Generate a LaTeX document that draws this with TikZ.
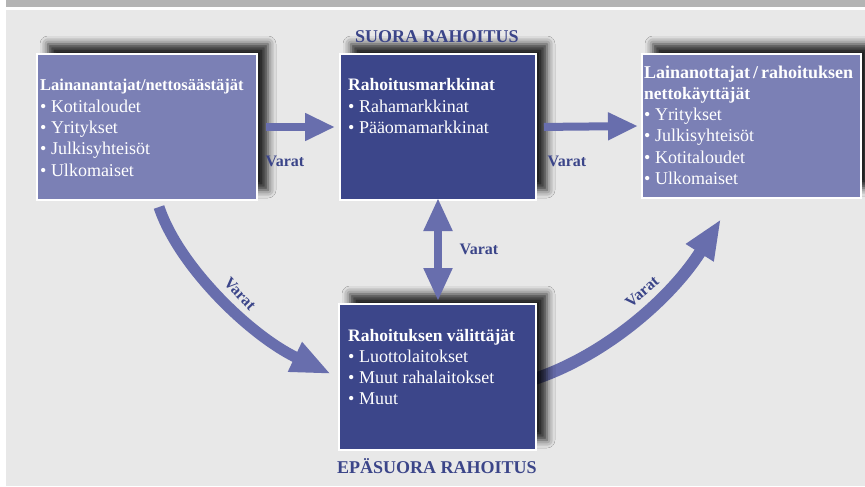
\documentclass[tikz,border=0pt]{standalone}
\usepackage{fontspec}
\setmainfont{Liberation Serif}
\newfontfamily\serifx{Liberation Serif}
\usetikzlibrary{arrows.meta,shadows.blur}
\definecolor{bgc}{HTML}{E8E8E8}
\definecolor{bandc}{HTML}{B4B4B4}
\definecolor{lightbox}{HTML}{7B80B5}
\definecolor{darkbox}{HTML}{3C468A}
\definecolor{flowc}{HTML}{686EAD}
\definecolor{tblue}{HTML}{3B4589}
\tikzset{
  box/.style={draw=white, line width=2pt, anchor=north west, inner sep=0pt,
    blur shadow={shadow xshift=11pt, shadow yshift=10pt, shadow blur radius=8pt, shadow opacity=85}},
  txt/.style={anchor=base west, inner sep=0pt, text=white},
  lbl/.style={inner sep=0pt, text=tblue, font=\serifx\fontsize{16}{18}\selectfont\bfseries},
  title/.style={anchor=base, inner sep=0pt, text=tblue, font=\serifx\fontsize{18}{20}\selectfont\bfseries},
  flow/.style={draw=flowc, line cap=butt},
}
\newcommand{\boxtext}[2]{\parbox[t]{#1}{\raggedright\serifx\fontsize{18}{21.3}\selectfont #2}}
\newcommand{\hdg}[2][17.5]{{\fontsize{#1}{21.3}\selectfont\bfseries #2}}
\begin{document}
\begin{tikzpicture}[x=1pt,y=-1pt]
\useasboundingbox (0,0) rectangle (865,487);
\fill[white] (0,0) rectangle (865,487);
\fill[bandc] (6,0) rectangle (865,7);
\fill[bgc] (6,10) rectangle (865,486);

% curved arrows (behind boxes)
\coordinate (lstart) at (159,207);
\coordinate (ltip) at (331,374);
\coordinate (rstart) at (525,382);
\coordinate (rtip) at (721,219);
\draw[flow, line width=11pt, -{Triangle[length=40pt,width=30pt]}]
  (lstart) .. controls (179,267) and (251,336) .. (ltip);
\draw[flow, line width=12pt, -{Triangle[length=40pt,width=30pt]}]
  (rstart) .. controls (600,360) and (670,300) .. (rtip);

% boxes
\node[box, fill=lightbox, minimum width=220pt, minimum height=146pt] (lend) at (36,53) {};
\node[box, fill=darkbox, minimum width=196pt, minimum height=146pt] (mkt) at (339,53) {};
\node[box, fill=lightbox, minimum width=219pt, minimum height=144pt] (borr) at (641,53) {};
\node[box, fill=darkbox, minimum width=197pt, minimum height=146pt] (inter) at (338,303) {};

% box texts
\node[txt] (lendt) at (40,91) {\boxtext{215pt}{\hdg[16.5]{Lainanantajat/nettosäästäjät}\\
  • Kotitaloudet\\ • Yritykset\\ • Julkisyhteisöt\\ • Ulkomaiset}};
\node[txt] (mktt) at (348,91) {\boxtext{185pt}{\hdg{Rahoitusmarkkinat}\\
  • Rahamarkkinat\\ • Pääomamarkkinat}};
\node[txt] (borrt) at (644,78) {\boxtext{214pt}{\hdg[18]{Lainanottajat\,/\,rahoituksen}\\ \hdg{nettokäyttäjät}\\
  • Yritykset\\ • Julkisyhteisöt\\ • Kotitaloudet\\ • Ulkomaiset}};
\node[txt] (intert) at (348,341) {\boxtext{185pt}{\hdg{Rahoituksen välittäjät}\\
  • Luottolaitokset\\ • Muut rahalaitokset\\ • Muut}};

% straight arrows
\draw[flow, line width=8pt, -{Triangle[length=30pt,width=26pt]}, shorten <=8pt, shorten >=4pt]
  (lend.east) -- (mkt.west);
\draw[flow, line width=8pt, -{Triangle[length=30pt,width=26pt]}, shorten <=7pt, shorten >=3pt]
  (mkt.east) -- (borr.west);
\draw[flow, line width=8pt, {Triangle[length=33pt,width=27pt]}-{Triangle[length=33pt,width=27pt]},
  shorten <=-3pt, shorten >=2pt]
  (mkt.south) -- (mkt.south |- inter.north);

% labels
\node[lbl] (v1) at (285,161) {Varat};
\node[lbl] (v2) at (567,161) {Varat};
\node[lbl] (v3) at (479,249) {Varat};
\node[lbl, rotate=-47] (v4) at (240,294) {Varat};
\node[lbl, rotate=41] (v5) at (642,292) {Varat};

% titles
\node[title] (t1) at (437,43) {SUORA RAHOITUS};
\node[title] (t2) at (437,473) {EPÄSUORA RAHOITUS};
\end{tikzpicture}
\end{document}
